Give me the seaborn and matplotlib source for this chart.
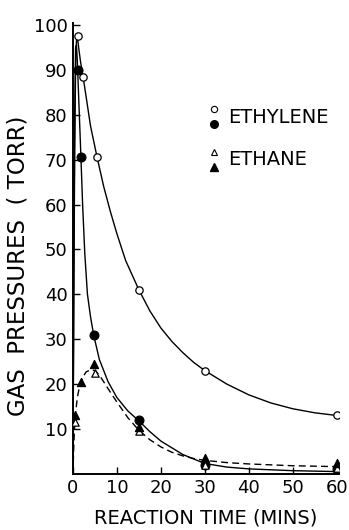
import pandas as pd
import matplotlib
matplotlib.use("Agg")
import matplotlib.pyplot as plt
from matplotlib.legend_handler import HandlerBase
from matplotlib.lines import Line2D
import seaborn as sns

# measured points
eth_open_t = [1.1, 2.3, 5.5, 15, 30, 60]
eth_open_p = [97.5, 88.5, 70.5, 41, 23, 13]
eth_fill_t = [1.1, 1.8, 4.7, 15, 30, 60]
eth_fill_p = [90, 70.5, 31, 12, 2, 1]
ethane_open_t = [0.5, 5, 15, 30, 60]
ethane_open_p = [11.5, 22.5, 9.5, 2, 1.2]
ethane_fill_t = [0.5, 1.8, 4.8, 15, 30, 60]
ethane_fill_p = [13, 20.5, 24.5, 10.5, 3.5, 2.5]

# curves
curve1_t = [0, 0.2, 0.4, 0.6, 0.8, 1.0, 1.3, 1.7, 2.3, 3, 4, 5.5, 7, 8.5, 10, 12,
            15, 17.5, 20, 22.5, 25, 27.5, 30, 35, 40, 45, 50, 55, 60]
curve1_p = [0, 40, 72, 90, 96.5, 97.5, 95, 92, 88.5, 84, 77.5, 70.5, 64, 58.5, 53.5, 47.5,
            41, 36.3, 32.5, 29.5, 27, 24.8, 23, 20, 17.6, 15.8, 14.5, 13.6, 13]
curve2_t = [0, 0.2, 0.4, 0.6, 0.8, 1.0, 1.3, 1.8, 2.2, 2.7, 3.3, 4.0, 4.7, 6, 8, 10,
            12.5, 15, 17.5, 20, 25, 30, 35, 40, 50, 60]
curve2_p = [0, 45, 80, 95, 95.5, 92, 84, 71, 60, 49, 40, 35, 31, 25.5, 20.5, 17,
            14, 11.8, 9.4, 7.3, 4.3, 2.3, 1.5, 1.1, 0.7, 0.5]
curve3_t = [0, 0.15, 0.35, 0.6, 1.0, 1.5, 2.2, 3, 4, 5, 6, 7, 8.5, 10, 12.5, 15,
            17.5, 20, 22.5, 25, 27.5, 30, 35, 40, 45, 50, 55, 60]
curve3_p = [0, 5, 10, 13.5, 17, 19.5, 21.5, 22.7, 23.2, 23, 22, 20.5, 18.2, 16, 12.5, 9.7,
            7.6, 6, 4.8, 4, 3.4, 3, 2.5, 2.2, 2, 1.8, 1.7, 1.6]

sns.set_theme(style="ticks", rc={"text.color": "black", "axes.labelcolor": "black"})
plt.rcParams['font.family'] = ['DejaVu Sans']

fig = plt.figure(figsize=(3.49, 5.30), dpi=100)
ax = fig.add_axes([0.209, 0.106, 0.762, 0.851])

c1 = pd.DataFrame({"t": curve1_t, "p": curve1_p})
c2 = pd.DataFrame({"t": curve2_t, "p": curve2_p})
c3 = pd.DataFrame({"t": curve3_t, "p": curve3_p})
sns.lineplot(data=c1, x="t", y="p", color="black", linewidth=1.0, ax=ax, sort=False)
sns.lineplot(data=c2, x="t", y="p", color="black", linewidth=1.0, ax=ax, sort=False)
sns.lineplot(data=c3, x="t", y="p", color="black", linewidth=1.0, ax=ax, sort=False,
             linestyle=(0, (5, 3)))

pts = [
    (eth_open_t, eth_open_p, "o", "white", 28),
    (eth_fill_t, eth_fill_p, "o", "black", 40),
    (ethane_open_t, ethane_open_p, "^", "white", 28),
    (ethane_fill_t, ethane_fill_p, "^", "black", 34),
]
for t, p, m, fc, s in pts:
    sns.scatterplot(x=t, y=p, marker=m, s=s, facecolor=fc, edgecolor="black",
                    linewidth=0.9, ax=ax, zorder=5)

ax.set_xlim(0, 60.5)
ax.set_ylim(0, 100.5)
ax.set_xticks([0, 10, 20, 30, 40, 50, 60])
ax.set_yticks([10, 20, 30, 40, 50, 60, 70, 80, 90, 100])
ax.tick_params(direction="in", length=5, width=1, labelsize=13, colors="black", pad=4)
sns.despine(ax=ax)
for s in ["left", "bottom"]:
    ax.spines[s].set_linewidth(1.4)
    ax.spines[s].set_color("black")
ax.set_xlabel("REACTION TIME (MINS)", fontsize=14, labelpad=8, color="black")
ax.set_ylabel("GAS  PRESSURES  ( TORR)", fontsize=16.5, color="black")
ax.yaxis.set_label_coords(-0.165, 0.462)


class Stacked(HandlerBase):
    def create_artists(self, legend, orig, xd, yd, w, h, fs, trans):
        top, bot = orig
        x = w / 2 - xd
        a = Line2D([x], [h * 1.0 - yd], marker=top[0], markersize=top[1],
                   markerfacecolor="white", markeredgecolor="black",
                   markeredgewidth=0.8, linestyle="none", transform=trans)
        b = Line2D([x], [-h * 0.1 - yd], marker=bot[0], markersize=bot[1],
                   markerfacecolor="black", markeredgecolor="black",
                   linestyle="none", transform=trans)
        return [a, b]


handles = [(("o", 4.5), ("o", 5.5)), (("^", 4.5), ("^", 5.5))]
ax.legend(handles, ["ETHYLENE", "ETHANE"], handler_map={tuple: Stacked()},
          loc="upper left", bbox_to_anchor=(0.445, 0.85), frameon=False,
          fontsize=14, handlelength=0.5, handletextpad=0.5, labelspacing=1.2,
          labelcolor="black")

fig.savefig("out.png", dpi=100)
